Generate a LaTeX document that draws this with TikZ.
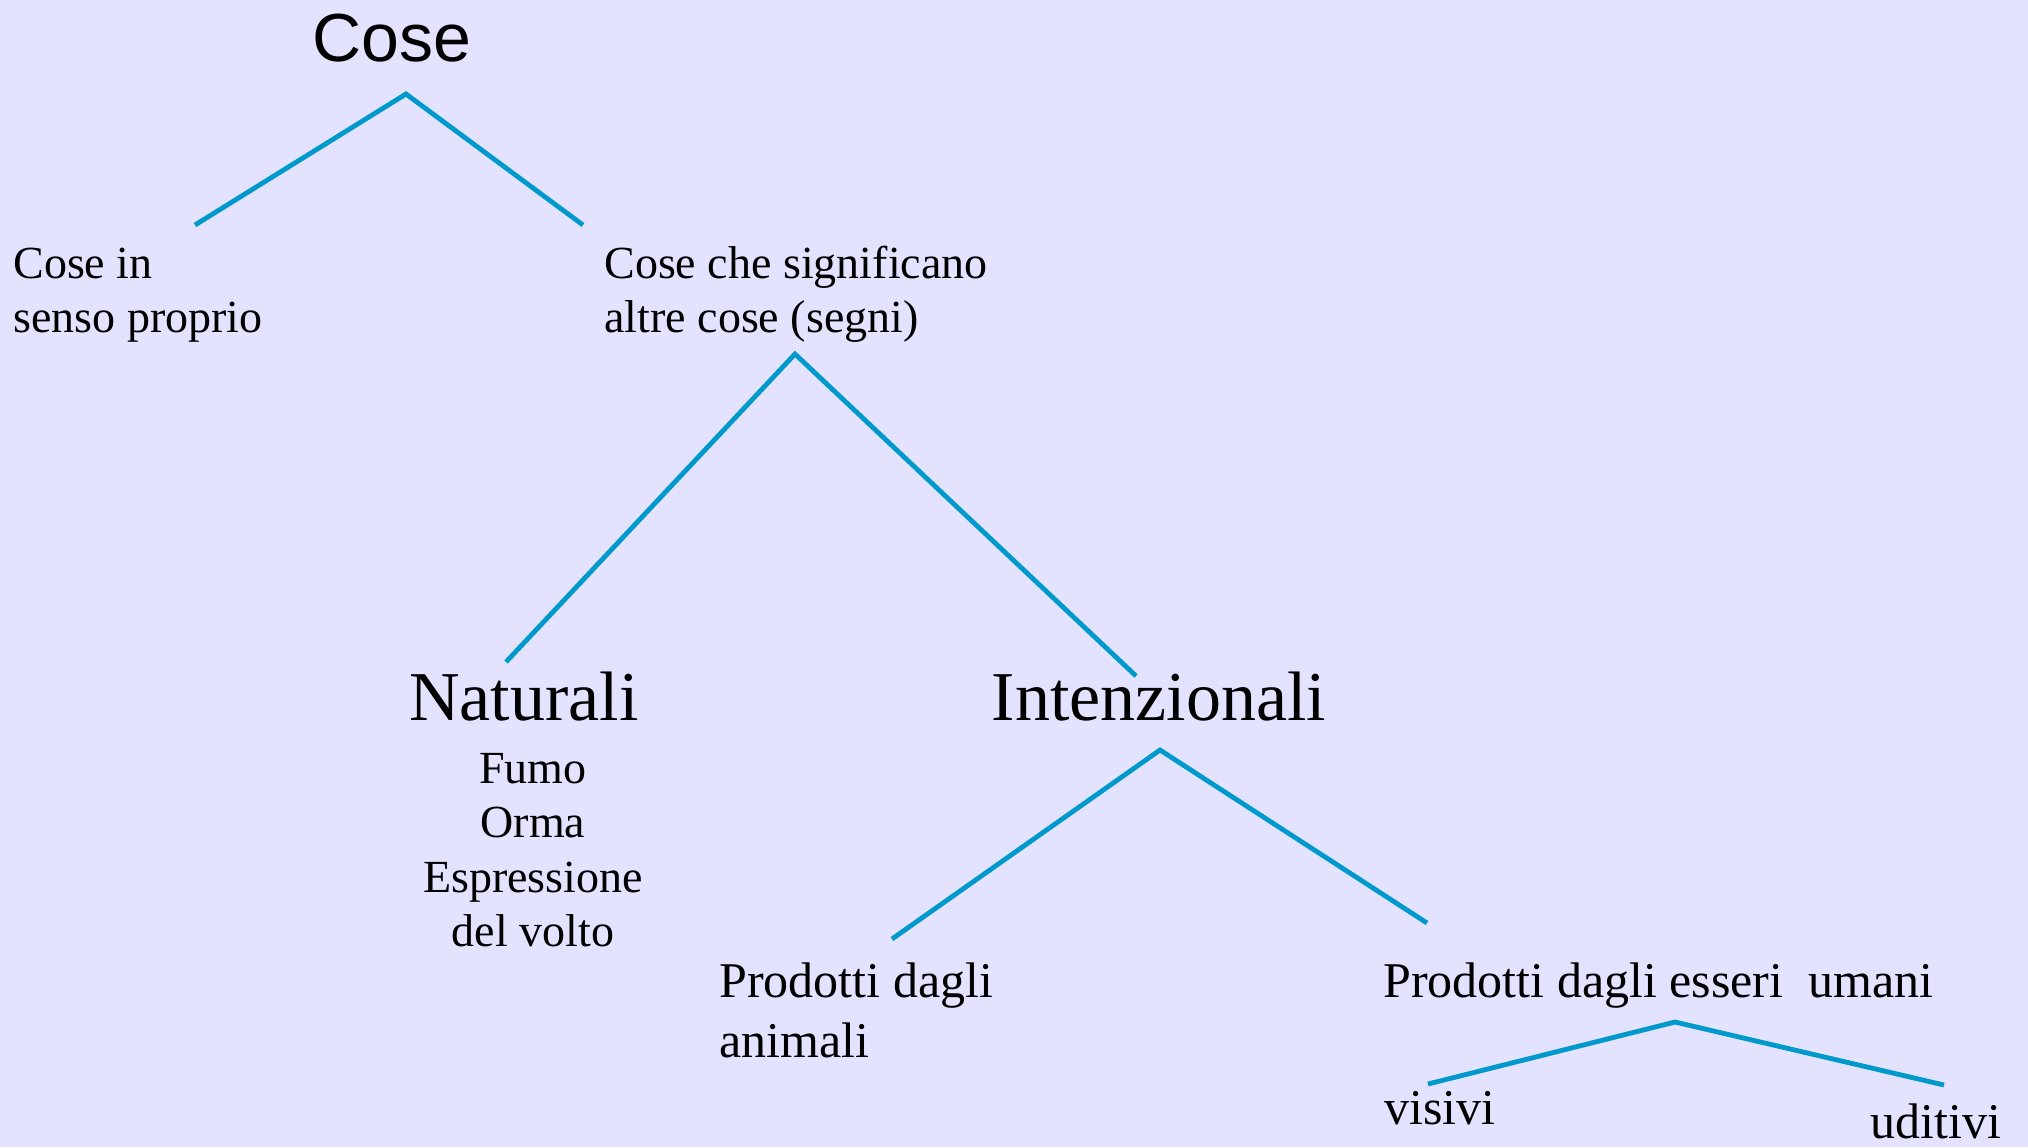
\documentclass[tikz,border=0pt]{standalone}
\usepackage{fontspec}
\setmainfont{Liberation Serif}
\newfontfamily\headfont{Liberation Sans}
\usetikzlibrary{positioning}
\definecolor{sfondo}{RGB}{227,227,255}
\definecolor{azzurro}{RGB}{0,153,204}

\begin{document}
\begin{tikzpicture}[x=0.5pt, y=-0.5pt,
  titolo/.style={anchor=base, inner sep=0pt, font=\headfont\fontsize{34}{40}\selectfont},
  voce/.style={anchor=base west, inner sep=0pt, font=\fontsize{23}{27}\selectfont},
  classe/.style={anchor=base, inner sep=0pt, font=\fontsize{35}{42}\selectfont},
  esempio/.style={anchor=base, inner sep=0pt, font=\fontsize{23}{27.3}\selectfont},
  prodotto/.style={anchor=base west, inner sep=0pt, font=\fontsize{25}{30}\selectfont},
  ramo/.style={draw=azzurro, line width=2.4pt}]

\fill[sfondo] (0,0) rectangle (2028,1147);

\node[titolo] (cose) at (392,61) {Cose};
\node[voce] (proprio) at (13,278) {\begin{tabular}[t]{@{}l@{}}Cose in\\senso proprio\end{tabular}};
\node[voce] (segni) at (604,278) {\begin{tabular}[t]{@{}l@{}}Cose che significano\\altre cose (segni)\end{tabular}};
\node[classe] (naturali) at (524,720) {Naturali};
\node[esempio] (esempi) at (533,783) {\begin{tabular}[t]{@{}c@{}}Fumo\\Orma\\Espressione\\del volto\end{tabular}};
\node[classe] (intenzionali) at (1159,720) {Intenzionali};
\node[prodotto] (animali) at (719,997) {\begin{tabular}[t]{@{}l@{}}Prodotti dagli\\animali\end{tabular}};
\node[prodotto] (umani) at (1383,997) {Prodotti dagli esseri\ \ umani};
\node[prodotto] (visivi) at (1384,1124) {visivi};
\node[prodotto] (uditivi) at (1870,1138) {uditivi};

\coordinate (coseTip) at (406,94);
\coordinate (proprioTop) at (195,225);
\coordinate (segniTop) at (583,225);
\coordinate (segniTip) at (795,354);
\coordinate (naturaliTop) at (506,662);
\coordinate (intenzTop) at (1136,676);
\coordinate (intenzTip) at (1160,750);
\coordinate (animaliTop) at (892,939);
\coordinate (umaniTop) at (1427,923);
\coordinate (umaniTip) at (1675,1022);
\coordinate (visiviTop) at (1428,1084);
\coordinate (uditiviTop) at (1944,1085);

\draw[ramo] (proprioTop) -- (coseTip) -- (segniTop);
\draw[ramo] (naturaliTop) -- (segniTip) -- (intenzTop);
\draw[ramo] (animaliTop) -- (intenzTip) -- (umaniTop);
\draw[ramo] (visiviTop) -- (umaniTip) -- (uditiviTop);

\end{tikzpicture}
\end{document}
